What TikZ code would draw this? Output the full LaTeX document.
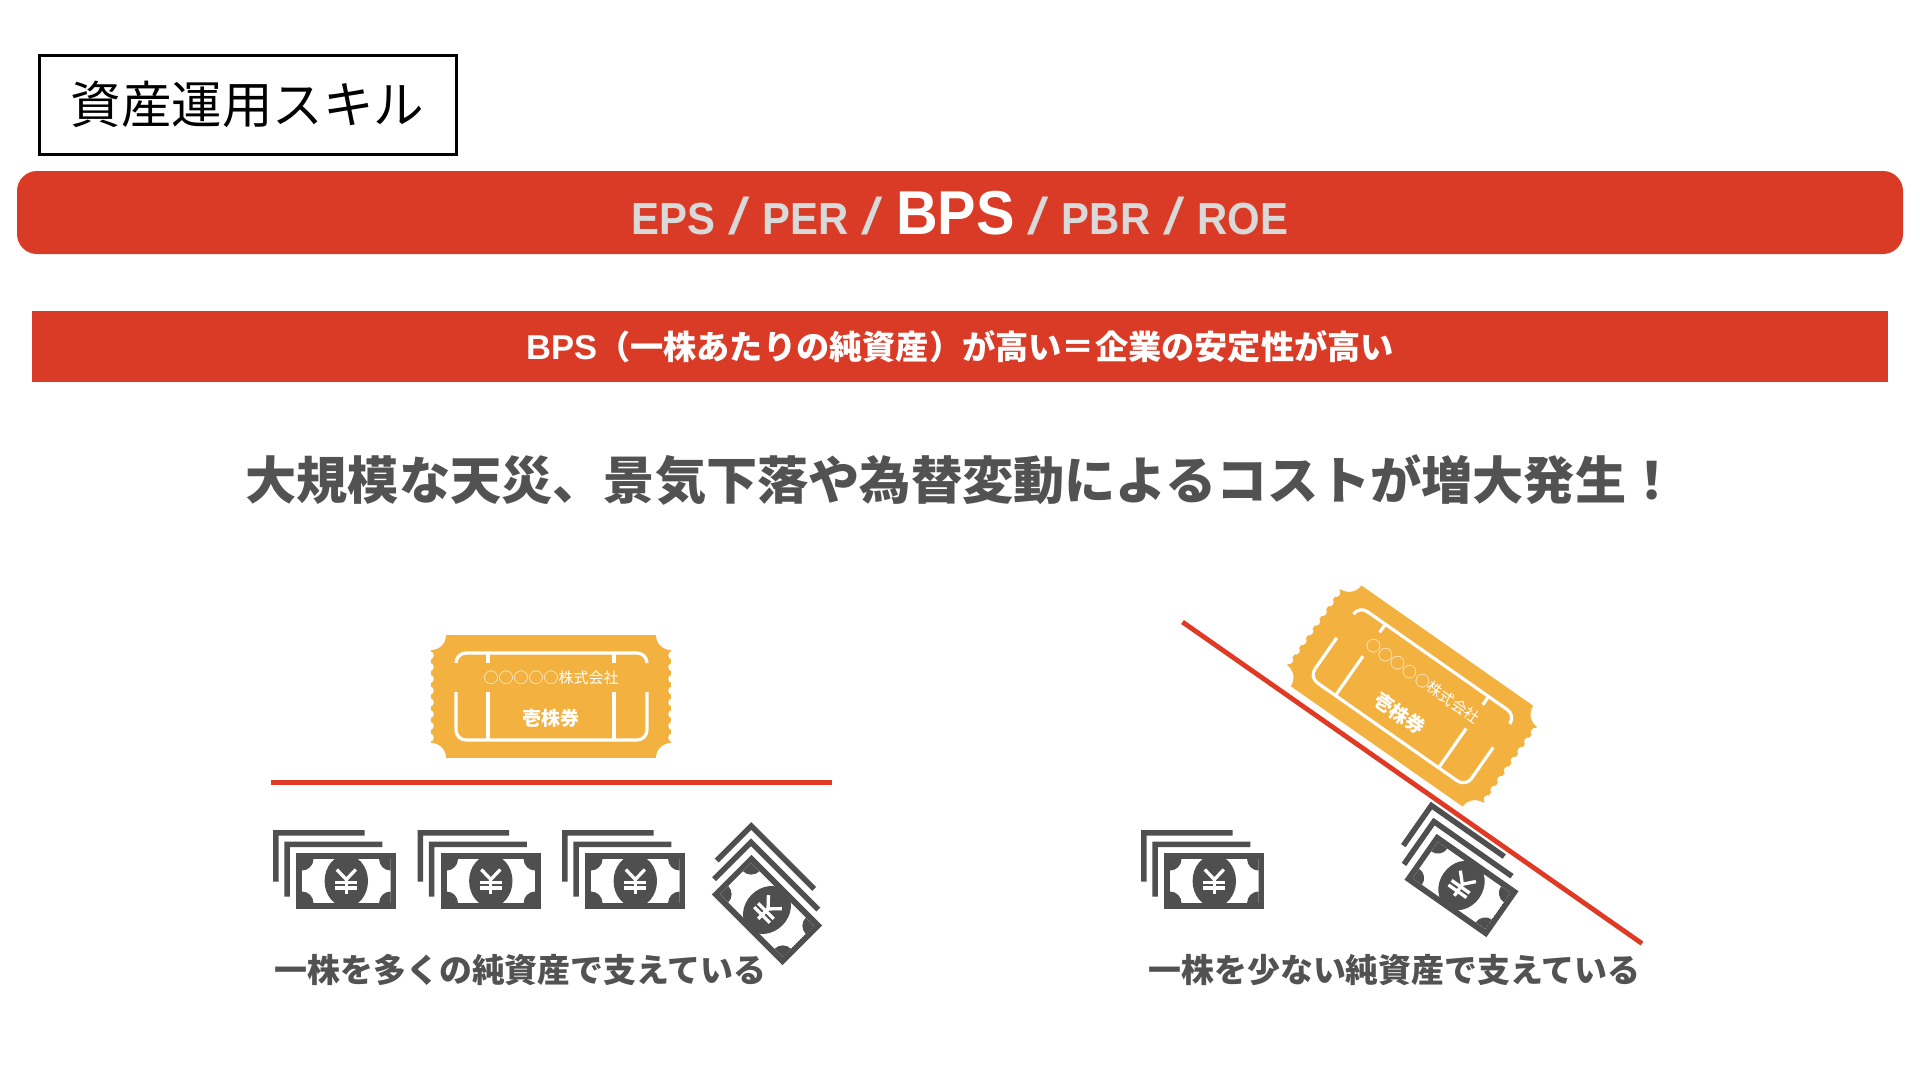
\documentclass[tikz,border=0pt]{standalone}
\usepackage{graphicx}
\usepackage{fontspec}
\setmainfont{Noto Sans CJK JP}
\newfontfamily\latinbold{Liberation Sans Bold}[FakeStretch=0.93]
\newfontfamily\latinwide{Liberation Sans Bold}
\newfontfamily\latinplain{Liberation Sans}
\definecolor{barred}{HTML}{DA3B26}
\definecolor{linered}{HTML}{E03A24}
\definecolor{ticketorange}{HTML}{F3B13F}
\definecolor{darkgray}{HTML}{4F4F4F}
\definecolor{softgray}{HTML}{D9D9D9}
\definecolor{headgray}{HTML}{525252}
\newcommand{\fs}[1]{\fontsize{#1}{#1}\selectfont}
\newcommand{\sepslash}{\hspace{13pt}\scalebox{1.7}[1.15]{\latinplain\fs{45}/}\hspace{13pt}}
\tikzset{
  label/.style={inner sep=0pt,outer sep=0pt,anchor=center},
  redline/.style={draw=linered,line width=4.8pt},
  frameline/.style={draw=white,line width=3.2pt},
  yenline/.style={draw=white,line width=3.3pt},
  layerfill/.style={fill=darkgray,draw=none},
}
% banknote icon: #1 x, #2 y, #3 clockwise angle
\newcommand{\banknote}[3]{%
  \begin{scope}[shift={(#1,#2)},rotate=-#3]
    \fill[layerfill] (-73.3,0.7) -- (-73.3,-51) -- (18.4,-51) -- (18.4,-45.5) -- (-67.8,-45.5) -- (-67.8,0.7) -- cycle;
    \fill[layerfill] (-62,15.7) -- (-62,-39.3) -- (36,-39.3) -- (36,-33.8) -- (-56.5,-33.8) -- (-56.5,15.7) -- cycle;
    \fill[layerfill] (-50,-28) rectangle (50,28);
    \begin{scope}
      \clip (-44.3,-22) rectangle (44.3,22);
      \fill[white] (-44.3,-22) rectangle (44.3,22);
      \foreach \cx/\cy in {-44.3/-22,44.3/-22,-44.3/22,44.3/22}
        \fill[layerfill] (\cx,\cy) circle (11.5);
    \end{scope}
    \fill[layerfill] (0,0) ellipse (21.7 and 26);
    \draw[yenline] (-9.5,-11.5) -- (0,-1.5) -- (9.5,-11.5);
    \draw[yenline] (0,-1.5) -- (0,12.5);
    \draw[yenline] (-11,1.5) -- (11,1.5);
    \draw[yenline] (-11,7) -- (11,7);
  \end{scope}}
% ticket icon: #1 name prefix, #2 x, #3 y, #4 clockwise angle
\newcommand{\ticket}[4]{%
  \begin{scope}[shift={(#2,#3)},rotate=-#4]
    \fill[ticketorange] (-120,-61.5) rectangle (120,61.5);
    \foreach \sx in {-1,1}{
      \foreach \sy in {-1,1}
        \fill[white] (\sx*120,\sy*61.5) circle (15);
      \foreach \py in {-41.1,-29.4,-17.6,-5.9,5.9,17.6,29.4,41.1}
        \fill[white] (\sx*121.5,\py) circle (4.3);
    }
    \draw[frameline,rounded corners=10pt] (-95,-33.5) -- (-95,-43.5) -- (96,-43.5) -- (96,-33.5);
    \draw[frameline,rounded corners=10pt] (-95,-4.5) -- (-95,43.5) -- (96,43.5) -- (96,-4.5);
    \draw[frameline] (-63,-43.5) -- (-63,-33.5);
    \draw[frameline] (-63,-4.5) -- (-63,43.5);
    \draw[frameline] (63,-43.5) -- (63,-33.5);
    \draw[frameline] (63,-4.5) -- (63,43.5);
    \node[label,transform shape,text=white,font=\fs{15}] (#1company) at (0,-18.5) {○○○○○株式会社};
    \node[label,transform shape,text=white,font=\fs{19}\bfseries] (#1share) at (0,21.5) {壱株券};
  \end{scope}}
\begin{document}
\begin{tikzpicture}[x=1pt,y=-1pt]
\useasboundingbox (0,0) rectangle (1920,1080);
\fill[white] (0,0) rectangle (1920,1080);
% title
\node[label,draw=black,line width=3pt,minimum width=417pt,minimum height=99pt,font=\fs{50.5}] (title) at (247.5,104.5) {資産運用スキル};
% bars
\node[label,fill=barred,rounded corners=20pt,minimum width=1886pt,minimum height=83pt] (bar1) at (960,212.5) {};
\node[label,anchor=base,text=softgray,font=\latinbold\fs{45}] (bar1text) at (960,234.5) {EPS\sepslash PER\sepslash\textcolor{white}{\fs{62}BPS}\sepslash PBR\sepslash ROE};
\node[label,fill=barred,minimum width=1856pt,minimum height=71pt] (bar2) at (960,346.5) {};
\node[label,text=white,font=\fs{33.2}\bfseries] (bar2text) at (960,347) {{\latinwide\fs{34.5}BPS}（一株あたりの純資産）が高い＝企業の安定性が高い};
% heading
\node[label,text=headgray,font=\fs{51.2}\bfseries] (heading) at (961.5,480) {大規模な天災、景気下落や為替変動によるコストが増大発生！};
% left group
\ticket{left}{551}{696.5}{0}
\coordinate (leftA) at (270.5,782.5);
\coordinate (leftB) at (831.5,782.5);
\draw[redline] (leftA) -- (leftB);
\banknote{346.3}{881}{0}
\banknote{490.8}{881}{0}
\banknote{635.3}{881}{0}
\banknote{767}{910}{45}
\node[label,text=headgray,font=\fs{32.9}\bfseries] (leftcap) at (520.6,970) {一株を多くの純資産で支えている};
% right group
\ticket{right}{1412}{696}{35}
\banknote{1214.3}{881}{0}
\banknote{1461.5}{885.5}{35}
\coordinate (rightA) at (1182.5,622);
\coordinate (rightB) at (1642,943.5);
\draw[redline] (rightA) -- (rightB);
\node[label,text=headgray,font=\fs{32.9}\bfseries] (rightcap) at (1394.5,970) {一株を少ない純資産で支えている};
\end{tikzpicture}
\end{document}
